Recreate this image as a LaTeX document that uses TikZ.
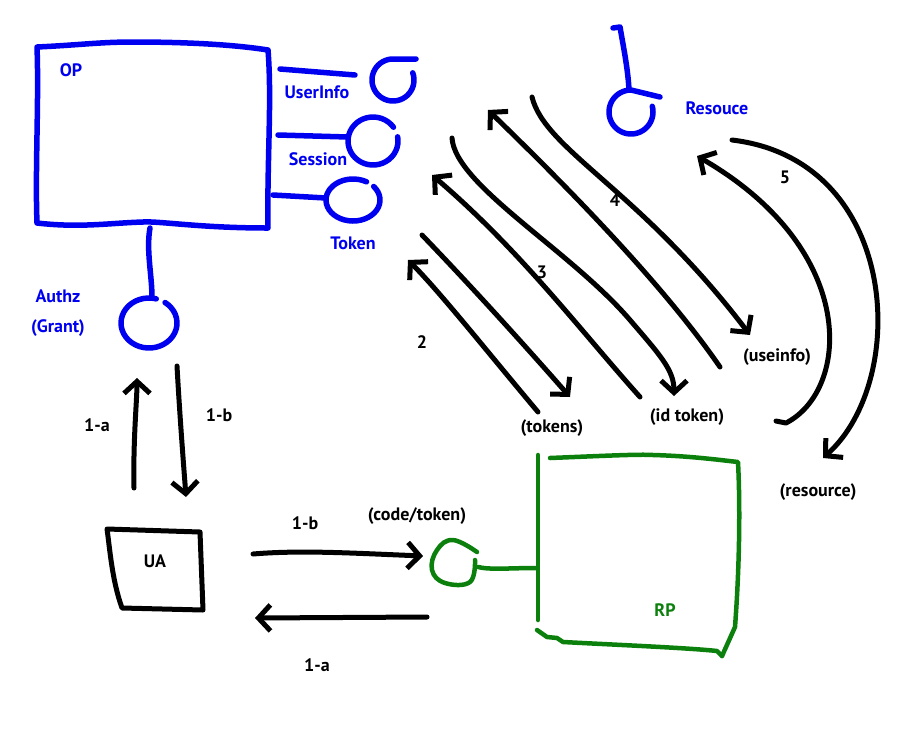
\documentclass[tikz,border=0pt]{standalone}
\usepackage{fontspec}
\setmainfont{PT Sans}
\usetikzlibrary{arrows.meta}
\definecolor{opblue}{RGB}{0,0,240}
\definecolor{rpgreen}{RGB}{12,128,12}
\tikzset{
  ink/.style={line width=5pt, line cap=round, line join=round},
  blueink/.style={ink, line width=5.5pt, draw=opblue},
  greenink/.style={ink, line width=4.5pt, draw=rpgreen},
  blackink/.style={ink, draw=black},
  arr/.style={blackink, -{Straight Barb[length=12pt,width=26pt]}},
  lbl/.style={font=\fontsize{18}{20}\selectfont\bfseries, inner sep=0pt},
  bluelbl/.style={lbl, text=opblue},
  greenlbl/.style={lbl, text=rpgreen},
  blacklbl/.style={lbl, text=black},
  cupspot/.style={circle, minimum size=44pt, inner sep=0pt}
}
\begin{document}
\begin{tikzpicture}[x=1pt,y=-1pt]
\useasboundingbox (0,0) rectangle (908,732);
\fill[white] (0,0) rectangle (908,732);

% ---------------- OP ----------------
\draw[blueink] (37,47) .. controls (80,45) and (100,42) .. (133,42)
  .. controls (180,42) and (230,44) .. (268,50)
  .. controls (272,100) and (267,160) .. (268,228)
  .. controls (200,228) and (160,221) .. (143,222)
  .. controls (110,223) and (80,228) .. (37,223)
  .. controls (35,170) and (39,100) .. cycle;
\node[bluelbl] (opl) at (71,70) {OP};

% UserInfo
\node[cupspot] (cui) at (393,80) {};
\draw[blueink] plot[smooth, domain=-20:270, samples=40] ({393+21*cos(\x)},{80+21*sin(\x)}) -- (416,59);
\coordinate (ui1) at (280,69);
\coordinate (ui2) at (355,75);
\draw[blueink] (ui1) -- (ui2);
\node[bluelbl] (uil) at (317,92) {UserInfo};

% Session
\node[cupspot] (cse) at (373,141) {};
\draw[blueink] plot[smooth, domain=-10:325, samples=40] ({373+25*cos(\x)},{141+24*sin(\x)});
\coordinate (se1) at (278,135);
\coordinate (se2) at (348,137);
\draw[blueink] (se1) -- (se2);
\node[bluelbl] (sel) at (318,159) {Session};

% Token
\node[cupspot] (cto) at (353,200) {};
\draw[blueink] plot[smooth, domain=-40:300, samples=40] ({353+27*cos(\x)},{200+21*sin(\x)});
\coordinate (to1) at (273,195);
\coordinate (to2) at (326,198);
\draw[blueink] (to1) -- (to2);
\node[bluelbl] (tol) at (353,243) {Token};

% Authz
\node[cupspot] (caz) at (149,323) {};
\draw[blueink] plot[smooth, domain=-55:285, samples=40] ({149+28*cos(\x)},{323+25*sin(\x)});
\coordinate (az1) at (150,228);
\coordinate (az2) at (152,298);
\draw[blueink] (az1) .. controls (146,250) and (152,275) .. (az2);
\node[bluelbl] (azl) at (58,296) {Authz};
\node[bluelbl] (grl) at (58,328) {(Grant)};

% Resource
\node[cupspot] (cre) at (631,112) {};
\draw[blueink] plot[smooth, domain=-15:270, samples=40] ({631+22*cos(\x)},{112+22*sin(\x)}) -- (660,97);
\coordinate (re1) at (613,28);
\coordinate (re2) at (629,90);
\draw[blueink] (re1) -- (620,27) .. controls (624,50) and (628,70) .. (re2);
\node[bluelbl] (rel) at (717,108) {Resouce};

% ---------------- flows 2..5 ----------------
\coordinate (a2us) at (538,412); \coordinate (a2ue) at (408,260);
\draw[arr] (a2us) .. controls (490,355) and (440,292) .. (a2ue);
\coordinate (a2ds) at (422,235); \coordinate (a2de) at (570,397);
\draw[arr] (a2ds) .. controls (470,285) and (520,340) .. (a2de);
\node[blacklbl] (n2) at (422,342) {2};

\coordinate (a3us) at (640,397); \coordinate (a3ue) at (432,175);
\draw[arr] (a3us) .. controls (580,330) and (520,250) .. (a3ue);
\coordinate (a3ds) at (452,138); \coordinate (a3de) at (674,396);
\draw[arr] (a3ds) .. controls (455,185) and (570,250) .. (630,320)
  .. controls (660,355) and (674,370) .. (a3de);
\node[blacklbl] (n3) at (542,272) {3};

\coordinate (a4us) at (720,367); \coordinate (a4ue) at (488,110);
\draw[arr] (a4us) .. controls (660,280) and (560,180) .. (a4ue);
\coordinate (a4ds) at (532,97); \coordinate (a4de) at (750,335);
\draw[arr] (a4ds) .. controls (545,150) and (640,190) .. (a4de);
\node[blacklbl] (n4) at (615,200) {4};

\coordinate (a5us) at (776,421); \coordinate (a5ue) at (697,156);
\draw[arr] (a5us) -- (786,423) .. controls (850,390) and (860,250) .. (a5ue);
\coordinate (a5ds) at (732,140); \coordinate (a5de) at (823,458);
\draw[arr] (a5ds) .. controls (900,160) and (910,380) .. (a5de);
\node[blacklbl] (n5) at (785,177) {5};

\node[blacklbl] (tkl) at (552,428) {(tokens)};
\node[blacklbl] (idl) at (687,417) {(id token)};
\node[blacklbl] (usl) at (777,357) {(useinfo)};
\node[blacklbl] (rsl) at (818,492) {(resource)};

% ---------------- UA ----------------
\draw[blackink] (107,529) -- (200,532) -- (203,610) -- (122,608)
  .. controls (112,580) and (110,550) .. cycle;
\node[blacklbl] (ua) at (155,561) {UA};

\coordinate (v1s) at (134,488); \coordinate (v1e) at (137,378);
\draw[arr] (v1s) .. controls (133,440) and (137,400) .. (v1e);
\node[blacklbl] (l1a) at (97,425) {1-a};
\coordinate (v2s) at (177,366); \coordinate (v2e) at (186,497);
\draw[arr] (v2s) .. controls (180,420) and (184,470) .. (v2e);
\node[blacklbl] (l1b) at (219,415) {1-b};

\coordinate (h1s) at (253,554); \coordinate (h1e) at (423,556);
\draw[arr] (h1s) .. controls (300,550) and (350,553) .. (h1e);
\node[blacklbl] (l1b2) at (305,523) {1-b};
\node[blacklbl] (cdl) at (417,516) {(code/token)};

\coordinate (h2s) at (427,617); \coordinate (h2e) at (255,618);
\draw[arr] (h2s) -- (h2e);
\node[blacklbl] (l1a2) at (317,665) {1-a};

% ---------------- RP ----------------
\draw[greenink] (538,455) -- (538,620);
\draw[greenink] (550,458) .. controls (600,456) and (640,454) .. (653,455)
  .. controls (690,456) and (720,460) .. (738,462)
  .. controls (740,500) and (740,560) .. (735,627) -- (722,656);
\draw[greenink] (537,630) -- (547,637) -- (557,638) -- (563,642)
  .. controls (620,645) and (690,648) .. (717,651) -- (722,656);
\node[greenlbl] (rpl) at (665,610) {RP};
\draw[greenink] plot[smooth, tension=0.7] coordinates {(477,552) (453,540) (437,550) (432,570) (445,583) (470,582) (475,560)};
\coordinate (rc1) at (478,567);
\coordinate (rc2) at (536,568);
\draw[greenink] (rc1) .. controls (490,570) and (510,568) .. (rc2);
\end{tikzpicture}
\end{document}
